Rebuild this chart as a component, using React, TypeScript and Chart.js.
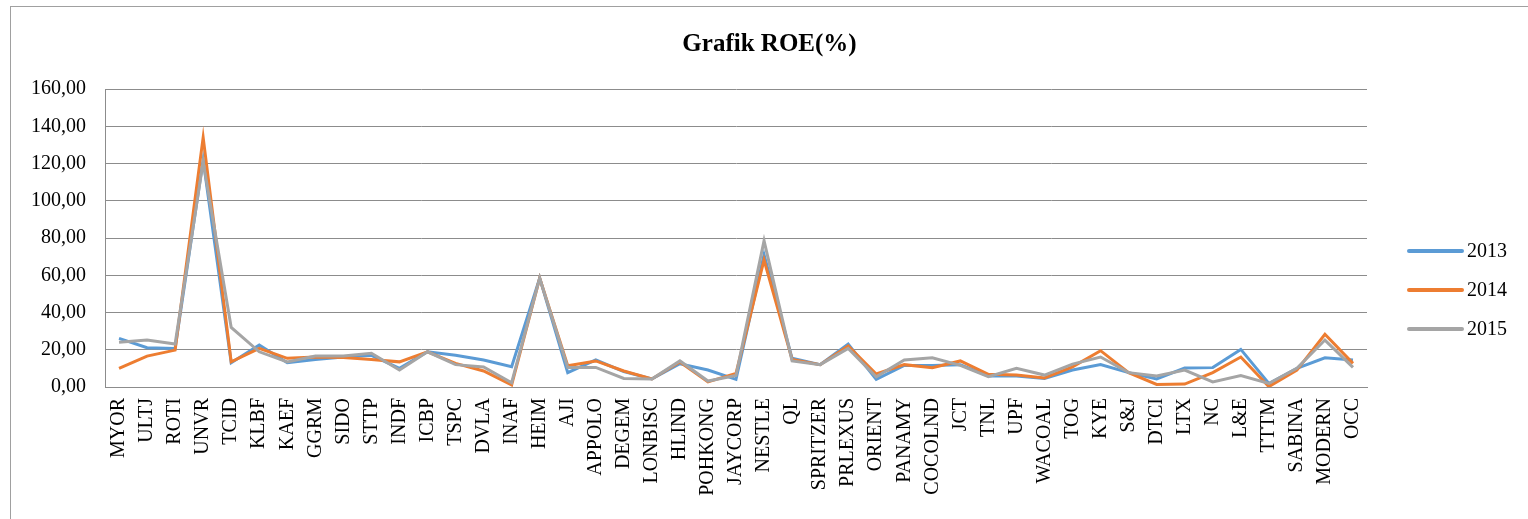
import React, { useEffect, useRef } from "react";
import { Chart, registerables } from "chart.js";

Chart.register(...registerables);

const categories: string[] = [
  "MYOR", "ULTJ", "ROTI", "UNVR", "TCID", "KLBF", "KAEF", "GGRM", "SIDO", "STTP",
  "INDF", "ICBP", "TSPC", "DVLA", "INAF", "HEIM", "AJI", "APPOLO", "DEGEM", "LONBISC",
  "HLIND", "POHKONG", "JAYCORP", "NESTLE", "QL", "SPRITZER", "PRLEXUS", "ORIENT", "PANAMY", "COCOLND",
  "JCT", "TNL", "UPF", "WACOAL", "TOG", "KYE", "S&J", "DTCI", "LTX", "NC",
  "L&E", "TTTM", "SABINA", "MODERN", "OCC",
];

const roe2013: number[] = [
  26.1, 21.1, 20.7, 122.0, 13.0, 22.5, 13.0, 14.8, 16.1, 17.0,
  10.0, 18.9, 17.0, 14.5, 10.9, 58.5, 7.7, 14.5, 8.3, 4.3,
  12.5, 9.1, 4.1, 71.0, 15.4, 12.0, 23.1, 4.1, 11.6, 11.6,
  12.0, 5.9, 5.9, 4.6, 9.1, 12.0, 7.7, 4.3, 10.2, 10.4,
  20.2, 1.9, 10.0, 15.7, 14.5,
];

const roe2014: number[] = [
  10.0, 16.6, 19.8, 134.0, 13.5, 20.7, 15.4, 16.1, 15.9, 14.8,
  13.5, 18.9, 12.7, 8.6, 1.1, 58.5, 11.4, 14.0, 8.6, 4.3,
  13.4, 2.7, 7.3, 68.2, 14.8, 12.0, 22.0, 7.0, 12.0, 10.4,
  14.0, 6.8, 6.4, 4.9, 10.8, 19.5, 7.7, 1.4, 1.6, 7.7,
  16.1, 0.2, 9.1, 28.3, 12.7,
];

const roe2015: number[] = [
  24.0, 25.2, 23.1, 121.0, 32.0, 18.9, 13.5, 16.6, 16.6, 18.1,
  9.1, 18.9, 12.0, 10.8, 2.3, 58.5, 10.5, 10.5, 4.6, 4.3,
  14.0, 3.2, 6.2, 78.5, 14.0, 12.0, 20.7, 5.5, 14.5, 15.7,
  11.6, 5.5, 10.0, 6.4, 12.3, 16.1, 7.7, 5.9, 9.1, 2.7,
  6.2, 1.9, 10.0, 25.2, 10.5,
];

const seriesLabels: string[] = ["2013", "2014", "2015"];
const seriesColors: string[] = ["#5B9BD5", "#ED7D31", "#A5A5A5"];

const titleText = "Grafik ROE(%)";
const yMin = 0;
const yMax = 160;
const yStep = 20;

const FONT = "'Liberation Serif', 'Times New Roman', serif";

const excelLegend = {
  id: "excelLegend",
  afterDraw(chart: any) {
    const { ctx, chartArea } = chart;
    const x0 = chartArea.right + 42;
    const lineLen = 53;
    const yStart = chartArea.top + 162;
    const gap = 39;
    ctx.save();
    chart.data.datasets.forEach((ds: any, i: number) => {
      const y = yStart + i * gap;
      ctx.strokeStyle = ds.borderColor;
      ctx.lineWidth = 4;
      ctx.lineCap = "round";
      ctx.beginPath();
      ctx.moveTo(x0, y);
      ctx.lineTo(x0 + lineLen, y);
      ctx.stroke();
      ctx.fillStyle = "#000000";
      ctx.font = `20px ${FONT}`;
      ctx.textAlign = "left";
      ctx.textBaseline = "middle";
      ctx.fillText(ds.label, x0 + lineLen + 5, y + 1);
    });
    ctx.restore();
  },
};

export default function App() {
  const canvasRef = useRef<HTMLCanvasElement | null>(null);

  useEffect(() => {
    if (!canvasRef.current) return;
    const values = [roe2013, roe2014, roe2015];
    const chart = new Chart(canvasRef.current, {
      type: "line",
      data: {
        labels: categories,
        datasets: values.map((v, i) => ({
          label: seriesLabels[i],
          data: v,
          borderColor: seriesColors[i],
          backgroundColor: seriesColors[i],
          borderWidth: 3,
          pointRadius: 0,
          tension: 0,
          fill: false,
          order: 2 - i,
          yAxisID: "y",
        })),
      },
      options: {
        responsive: false,
        animation: false,
        layout: { padding: 0 },
        plugins: {
          legend: { display: false },
          tooltip: { enabled: false },
          title: {
            display: true,
            text: titleText,
            color: "#000000",
            font: { family: FONT, size: 25, weight: "bold" },
            padding: { top: 23, bottom: 29 },
          },
        },
        scales: {
          x: {
            type: "category",
            offset: true,
            grid: { display: false, drawTicks: false },
            border: { display: true, color: "#8c8c8c", width: 1 },
            ticks: {
              color: "#000000",
              font: { family: FONT, size: 20 },
              minRotation: 90,
              maxRotation: 90,
              autoSkip: false,
              padding: 11,
            },
            afterFit(scale: any) {
              scale.height = 132;
            },
          },
          y: {
            min: yMin,
            max: yMax,
            grid: { color: "#8c8c8c", lineWidth: 1, drawTicks: false },
            border: { display: true, color: "#8c8c8c", width: 1 },
            ticks: {
              stepSize: yStep,
              color: "#000000",
              font: { family: FONT, size: 20 },
              padding: 19,
              callback: (val: any) => Number(val).toFixed(2).replace(".", ","),
            },
            afterFit(scale: any) {
              scale.width = 94;
            },
          },
          legendSpace: {
            type: "linear",
            position: "right",
            min: yMin,
            max: yMax,
            grid: { display: false, drawTicks: false },
            border: { display: false },
            ticks: { display: false },
            afterFit(scale: any) {
              scale.width = 161;
            },
          },
        },
      },
      plugins: [excelLegend],
    });
    return () => chart.destroy();
  }, []);

  return (
    <div
      style={{
        position: "absolute",
        left: 10,
        top: 6,
        width: 1530,
        height: 530,
        border: "1px solid #a0a0a0",
        background: "#ffffff",
        boxSizing: "content-box",
      }}
    >
      <canvas
        ref={canvasRef}
        width={1517}
        height={512}
        style={{ display: "block", width: 1517, height: 512 }}
      />
    </div>
  );
}
